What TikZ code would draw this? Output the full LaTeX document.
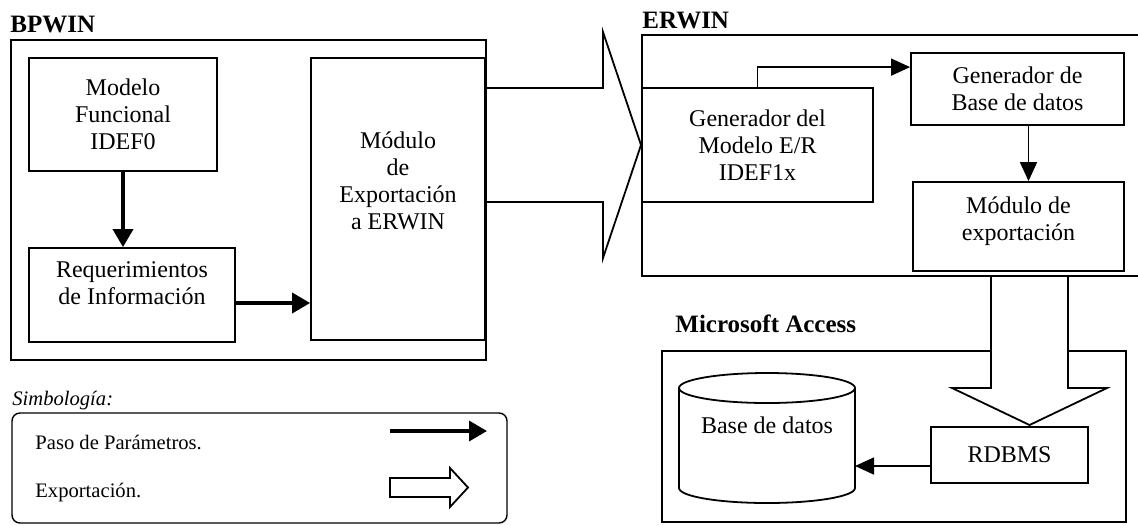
\documentclass[tikz,border=0pt]{standalone}
\usepackage{fontspec}
\setmainfont{Liberation Serif}
\usetikzlibrary{arrows.meta}

\begin{document}
\begin{tikzpicture}[x=0.5pt,y=-0.5pt,
    marco/.style={draw,line width=0.9pt,inner sep=0pt},
    caja/.style={marco,align=center,font=\fontsize{12}{13.5}\selectfont},
    titulo/.style={font=\fontsize{12.5}{14}\selectfont\bfseries,inner sep=0pt,anchor=base west},
    leyenda/.style={font=\fontsize{10.3}{12}\selectfont,inner sep=0pt,anchor=west},
    param/.style={line width=1.8pt,-{Triangle[length=9pt,width=10pt]}},
    paramfino/.style={line width=0.8pt,-{Triangle[length=9.5pt,width=8.5pt]}},
    export/.style={line width=0.9pt,fill=white,line join=miter}]

  \useasboundingbox (0,0) rectangle (1138,525);

  %BPWIN block
  \node[titulo] (tbp) at (10,32) {BPWIN};
  \node[marco,minimum width=237.5pt,minimum height=160pt] (bpwin) at (248.5,200) {};
  \node[caja,minimum width=94pt,minimum height=56.5pt] (modelo) at (123,114.5) {Modelo\\Funcional\\IDEF0};
  \node[caja,minimum width=103pt,minimum height=47pt,text depth=12pt] (req) at (132,295) {Requerimientos\\de Información};
  \node[caja,minimum width=87pt,minimum height=141pt,text depth=18pt] (modulo) at (398,199) {Módulo\\de\\Exportación\\a ERWIN};
  \draw[param] (modelo.south) -- (modelo.south |- req.north);
  \draw[param] ([yshift=-4pt]req.east) -- ([yshift=-4pt]req.east -| modulo.west);

  %export BPWIN -> ERWIN
  \draw[export] (487,88) -- (603,88) -- (603,32) -- (641,145)
      -- (603,258) -- (603,202) -- (487,202);

  %ERWIN block
  \node[titulo] (ter) at (642,28) {ERWIN};
  \node[marco,minimum width=249pt,minimum height=120.5pt] (erwin) at (891,155.5) {};
  \node[caja,minimum width=115.5pt,minimum height=57pt] (gendel) at (757.5,145) {Generador del\\Modelo E/R\\IDEF1x};
  \node[caja,minimum width=106.5pt,minimum height=36pt] (genbd) at (1017.5,89) {Generador de\\Base de datos};
  \node[caja,minimum width=105.5pt,minimum height=44.5pt,text depth=8pt] (modexp) at (1018.5,226.5) {Módulo de\\exportación};
  \draw[paramfino] (gendel.north) |- ([yshift=-7.5pt]genbd.north west);
  \draw[paramfino] ([xshift=5.5pt]genbd.south) -- ([xshift=5.5pt]genbd.south |- modexp.north);

  %Microsoft Access block
  \node[titulo] (tma) at (675,332) {Microsoft Access};
  \node[marco,minimum width=232pt,minimum height=85.5pt] (access) at (894,436.5) {};
  \node[caja,minimum width=78.5pt,minimum height=28pt] (rdbms) at (1009.5,455) {RDBMS};
  \draw[line width=0.9pt] (679,388) -- (679,488) arc[start angle=180,end angle=0,x radius=88,y radius=15] -- (855,388);
  \draw[line width=0.9pt] (767,388) ellipse [x radius=88,y radius=15];
  \node[font=\fontsize{12}{13.5}\selectfont,inner sep=0pt] (bd) at (767,425) {Base de datos};
  \coordinate (bdlado) at (855,466);
  \draw[paramfino] (bdlado -| rdbms.west) -- (bdlado);

  %export ERWIN -> Access
  \draw[export] (991,277) -- (991,388) -- (952,388) -- (1029.5,425)
      -- (1107,388) -- (1068,388) -- (1068,277);

  %legend
  \node[leyenda,font=\fontsize{10.3}{12}\selectfont\itshape] (tsim) at (12,401) {Simbología:};
  \node[marco,line width=0.7pt,rounded corners=4pt,minimum width=247.5pt,minimum height=55pt] (simb) at (259.5,468) {};
  \node[leyenda] (lparam) at (35,442) {Paso de Parámetros.};
  \node[leyenda] (lexp) at (35,493) {Exportación.};
  \coordinate (fa) at (390,431);
  \coordinate (fb) at (487,431);
  \draw[param] (fa) -- (fb);
  \draw[export] (390,478) -- (450,478) -- (450,468) -- (468,487.5)
      -- (450,507) -- (450,497) -- (390,497) -- cycle;
\end{tikzpicture}
\end{document}
